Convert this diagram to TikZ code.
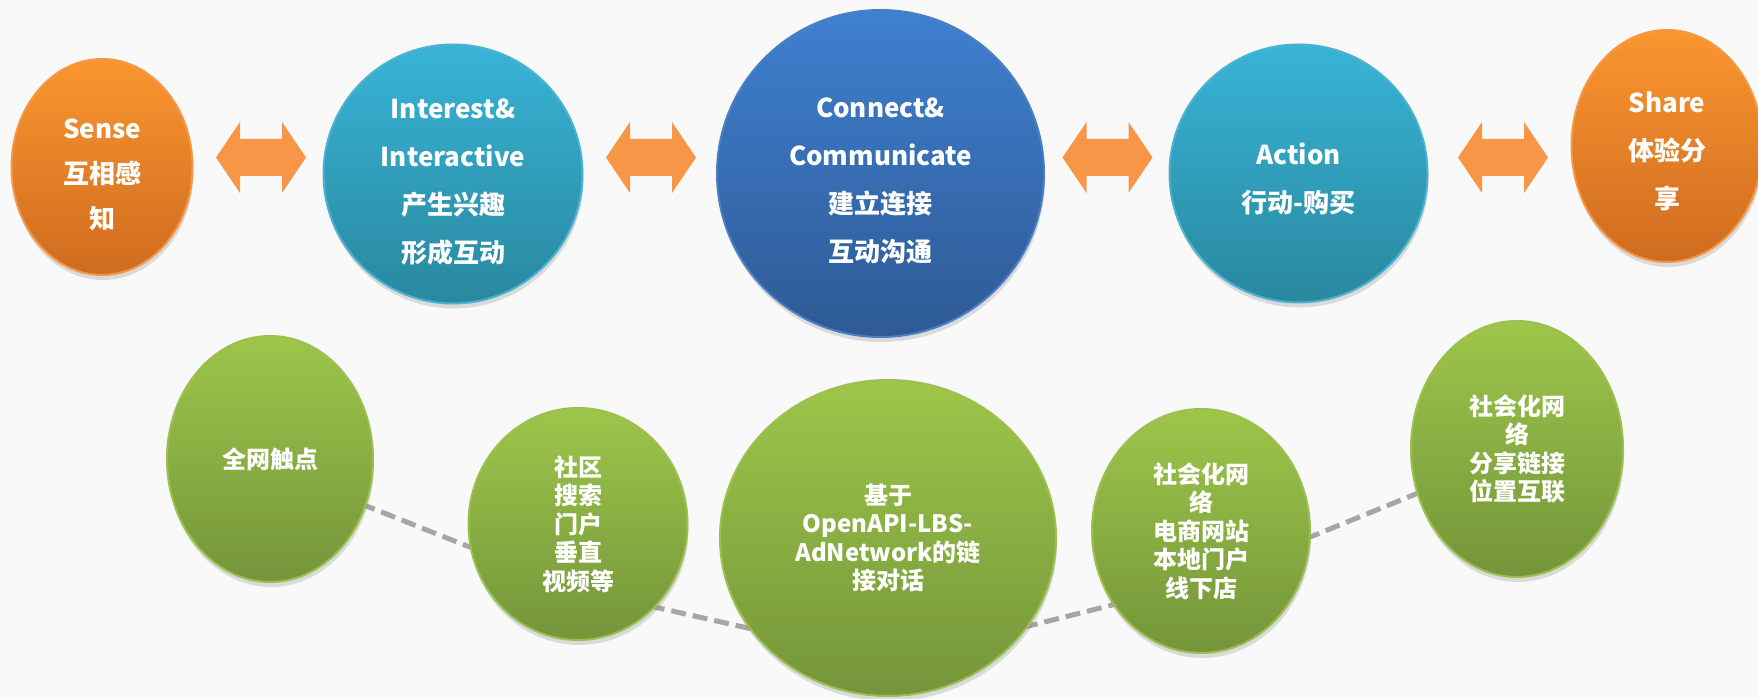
\documentclass[tikz,border=0pt]{standalone}
\usepackage{xcolor}
\usepackage{fontspec}
\setmainfont{Noto Sans CJK SC}
\usepackage{tikz}
\usetikzlibrary{shapes.geometric, shadows}

\definecolor{bgfill}{HTML}{F9F9F9}
\definecolor{orangetop}{HTML}{FA962F}
\definecolor{orangebot}{HTML}{CF6B1F}
\definecolor{orangerim}{HTML}{F79646}
\definecolor{cyantop}{HTML}{38B4D6}
\definecolor{cyanbot}{HTML}{29889F}
\definecolor{cyanrim}{HTML}{4BB2CF}
\definecolor{bluetop}{HTML}{3F80D0}
\definecolor{bluebot}{HTML}{2E5A95}
\definecolor{bluerim}{HTML}{4A7FC4}
\definecolor{greentop}{HTML}{9DC64A}
\definecolor{greenbot}{HTML}{74953A}
\definecolor{greenrim}{HTML}{9BC04F}
\definecolor{arrowfill}{HTML}{F79646}
\definecolor{dashgray}{HTML}{A6A6A6}

\pgfdeclarelayer{back}
\pgfdeclarelayer{links}
\pgfsetlayers{back,links,main}

\tikzset{
  bubble/.style={ellipse, inner sep=0pt, align=center, text=white,
    line width=1pt, drop shadow={opacity=0.25, shadow xshift=0.5pt, shadow yshift=-2.5pt}},
  toptext/.style={font=\fontsize{13}{24}\selectfont\bfseries},
  lowtext/.style={font=\fontsize{12}{14.25}\selectfont\bfseries},
  orangeball/.style={bubble, toptext, top color=orangetop, bottom color=orangebot, draw=orangerim},
  cyanball/.style={bubble, toptext, top color=cyantop, bottom color=cyanbot, draw=cyanrim},
  blueball/.style={bubble, toptext, top color=bluetop, bottom color=bluebot, draw=bluerim},
  greenball/.style={bubble, lowtext, top color=greentop, bottom color=greenbot, draw=greenrim},
  link/.style={draw=dashgray, line width=2.5pt, dash pattern=on 7.5pt off 3.5pt,
    shorten <=-3pt, shorten >=-3pt},
}

\begin{document}
\begin{tikzpicture}[x=0.5pt, y=-0.5pt]
	\begin{pgfonlayer}{back}
		\fill[bgfill] (0,0) rectangle (1758,699);
	\end{pgfonlayer}
	\useasboundingbox (0,0) rectangle (1758,699);

	% top row
	\node[orangeball, minimum width=90.5pt, minimum height=108pt, font=\fontsize{13}{22.5}\selectfont\bfseries, text height=63pt] (sense) at (102,167) {Sense\\互相感\\知};
	\node[cyanball, minimum width=129.5pt, minimum height=129.5pt, text height=89.5pt] (interest) at (453,174) {Interest\&\\Interactive\\产生兴趣\\形成互动};
	\node[blueball, minimum width=163.5pt, minimum height=163.5pt, text height=89pt] (connect) at (880.5,173.5) {Connect\&\\Communicate\\建立连接\\互动沟通};
	\node[cyanball, minimum width=129pt, minimum height=129pt, text height=40pt] (action) at (1298.5,173.5) {Action\\行动-购买};
	\node[orangeball, minimum width=95.5pt, minimum height=116pt, text height=64pt] (share) at (1667,146) {Share\\体验分\\享};

	\foreach \cx in {261,651,1107.5,1503}
		\fill[arrowfill] (\cx-45,157.5) -- (\cx-21,122) -- (\cx-21,139) -- (\cx+21,139) -- (\cx+21,122)
			-- (\cx+45,157.5) -- (\cx+21,193) -- (\cx+21,176) -- (\cx-21,176) -- (\cx-21,193) -- cycle;

	% bottom row
	\node[greenball, minimum width=103pt, minimum height=123pt] (touch) at (270,459) {全网触点};
	\node[greenball, minimum width=109.5pt, minimum height=116pt] (portal) at (578,524) {社区\\搜索\\门户\\垂直\\视频等};
	\node[greenball, minimum width=168pt, minimum height=158pt] (openapi) at (888,538) {基于\\OpenAPI-LBS-\\AdNetwork的链\\接对话};
	\node[greenball, minimum width=109pt, minimum height=122pt] (shop) at (1201,531) {社会化网\\络\\电商网站\\本地门户\\线下店};
	\node[greenball, minimum width=106pt, minimum height=128pt] (social) at (1517,449) {社会化网\\络\\分享链接\\位置互联};

	\begin{pgfonlayer}{links}
		\draw[link] (touch.334) -- (portal.192);
		\draw[link] (portal.313) -- (openapi.213);
		\draw[link] (openapi.328) -- (shop.220);
		\draw[link] (shop.357) -- (social.204);
	\end{pgfonlayer}
\end{tikzpicture}
\end{document}
